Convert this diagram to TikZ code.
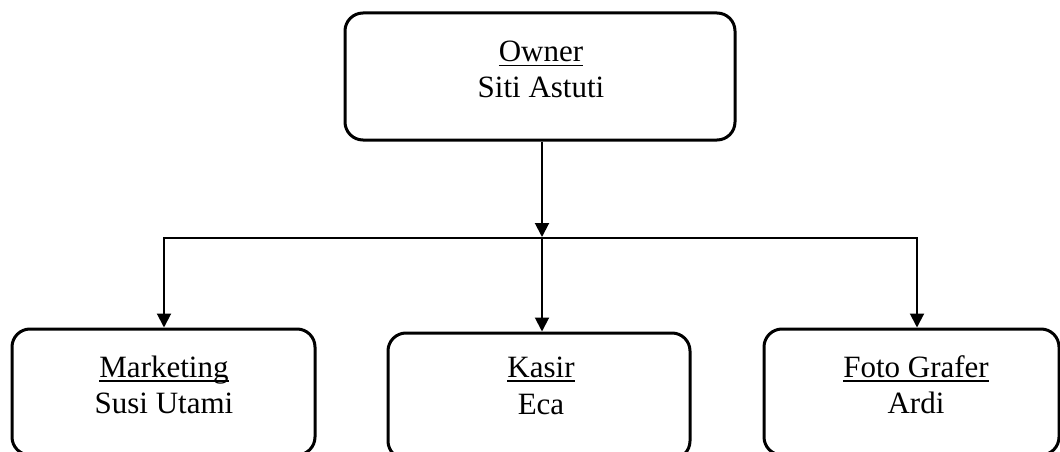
\documentclass[tikz,border=0pt]{standalone}
\usepackage{fontspec}
\setmainfont{Liberation Serif}
\usetikzlibrary{arrows.meta}
\newcommand\ulword[1]{\setbox0\hbox{#1}\rlap{\rule[-4.5pt]{\wd0}{1.6pt}}\box0}
\tikzset{
  orgbox/.style={draw, line width=3pt, rounded corners=18pt, inner sep=0pt},
  lbl/.style={anchor=base, inner sep=0pt, font=\fontsize{31}{36}\selectfont},
  conn/.style={line width=2pt},
  arr/.style={line width=2pt, -{Triangle[width=14pt,length=14pt]}}
}
\begin{document}
\begin{tikzpicture}[x=1pt,y=-1pt]
\useasboundingbox (0,0) rectangle (1060,452);
% boxes
\node[orgbox, minimum width=390pt, minimum height=127pt] (own) at (540,76.5) {};
\node[orgbox, minimum width=303pt, minimum height=126pt] (mkt) at (163.5,392) {};
\node[orgbox, minimum width=302pt, minimum height=126pt] (ksr) at (539,396) {};
\node[orgbox, minimum width=295pt, minimum height=126pt] (fto) at (911.5,392) {};
% labels
\node[lbl] (ownA) at (541,62) {\ulword{Owner}};
\node[lbl] (ownB) at (541,97) {Siti Astuti};
\node[lbl] (mktA) at (164,377) {\ulword{Marketing}};
\node[lbl] (mktB) at (164,413) {Susi Utami};
\node[lbl] (ksrA) at (541,377) {\ulword{Kasir}};
\node[lbl] (ksrB) at (541,414) {Eca};
\node[lbl] (ftoA) at (916,377) {\ulword{Foto Grafer}};
\node[lbl] (ftoB) at (916,413) {Ardi};
% connectors
\coordinate (j) at (542,238);
\coordinate (hl) at (164,238);
\coordinate (hr) at (917,238);
\draw[arr, shorten >=1pt] (own.south -| j) -- (j);
\draw[conn] ([xshift=-1pt]hl) -- ([xshift=1pt]hr);
\draw[arr] ([yshift=-1pt]hl) -- (mkt.north -| hl);
\draw[arr] (j) -- (ksr.north -| j);
\draw[arr] ([yshift=-1pt]hr) -- (fto.north -| hr);
\end{tikzpicture}
\end{document}
